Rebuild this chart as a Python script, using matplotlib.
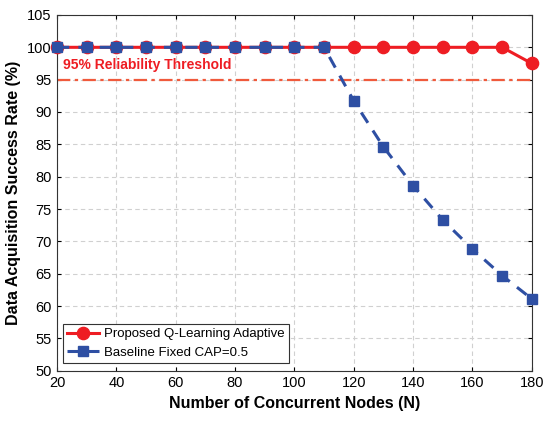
import matplotlib
matplotlib.use("Agg")
import matplotlib.pyplot as plt

plt.rcParams['font.family'] = ['Liberation Sans', 'DejaVu Sans']

nodes = [20, 30, 40, 50, 60, 70, 80, 90, 100, 110, 120, 130, 140, 150, 160, 170, 180]
proposed = [100, 100, 100, 100, 100, 100, 100, 100, 100, 100, 100, 100, 100, 100, 100, 100, 97.5]
baseline = [100, 100, 100, 100, 100, 100, 100, 100, 100, 100, 91.7, 84.6, 78.6, 73.3, 68.8, 64.7, 61.1]
threshold = 95

fig = plt.figure(figsize=(5.5, 4.22), dpi=100)
ax = fig.add_axes([0.1036, 0.1216, 0.8634, 0.8429])

ax.plot(nodes, proposed, '-o', color='#EE1D23', lw=2.2, ms=8.8,
        label='Proposed Q-Learning Adaptive', zorder=3, clip_on=False)
ax.plot(nodes, baseline, '--s', color='#2E4FA3', lw=2.2, ms=6.8,
        dashes=(4, 3), label='Baseline Fixed CAP=0.5', zorder=4, clip_on=False)
ax.axhline(threshold, color='#F05A3C', lw=1.6, ls=(0, (6, 2, 1.5, 2)), zorder=2)
ax.text(22, 96.2, '95% Reliability Threshold', color='#EE1D23',
        fontsize=10, fontweight='bold', va='bottom', ha='left')

ax.set_xlim(20, 180)
ax.set_ylim(50, 105)
ax.set_xticks(range(20, 181, 20))
ax.set_yticks(range(50, 106, 5))
ax.tick_params(direction='in', labelsize=10.5, length=3, top=True, right=True, pad=4)
ax.grid(True, ls=(0, (4, 3)), color='#d0d0d0', lw=0.8)
for s in ax.spines.values():
    s.set_color('#333333')
    s.set_linewidth(0.8)

ax.set_xlabel('Number of Concurrent Nodes (N)', fontsize=11.5, fontweight='bold')
ax.set_ylabel('Data Acquisition Success Rate (%)', fontsize=11.5, fontweight='bold')

leg = ax.legend(loc='lower left', fontsize=9.5, fancybox=False, edgecolor='#333333',
                framealpha=1, borderpad=0.3, handlelength=2.4, handletextpad=0.4,
                labelspacing=0.45, borderaxespad=0,
                bbox_to_anchor=(0.013, 0.023))
leg.get_frame().set_linewidth(0.8)

fig.savefig('out.png', dpi=100)
